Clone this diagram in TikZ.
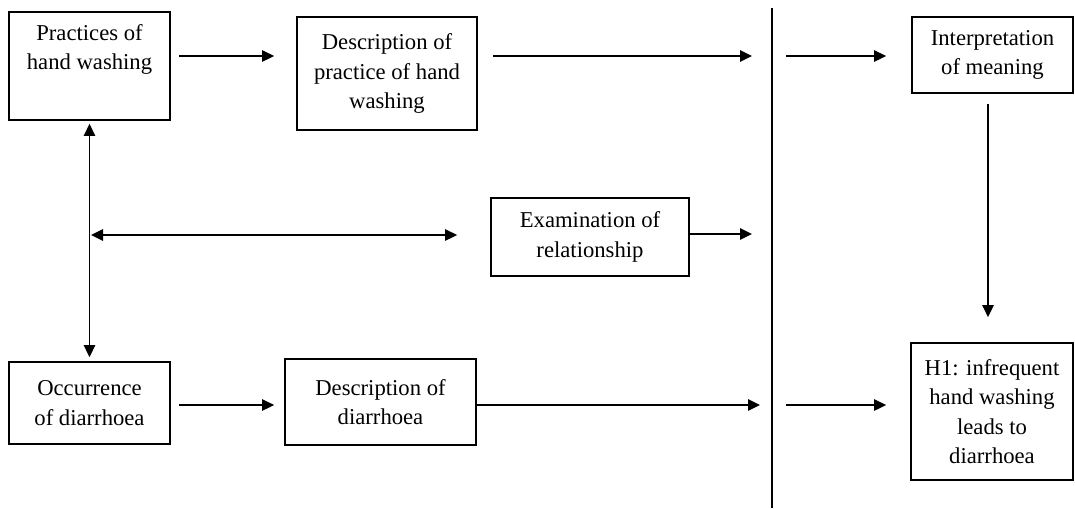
\documentclass[tikz,border=0pt]{standalone}
\usepackage{fontspec}
\setmainfont{Liberation Serif}
\usetikzlibrary{arrows.meta,calc}
\begin{document}
\begin{tikzpicture}[x=0.75pt,y=-0.75pt,
  txtfont/.style={font=\fontsize{17}{22}\selectfont},
  box/.style={draw, line width=1.3pt, align=center, inner sep=0pt, txtfont},
  arr/.style={line width=1.3pt, -{Triangle[length=9pt,width=8.5pt]}},
  darr/.style={line width=1.3pt, {Triangle[length=9pt,width=8.5pt]}-{Triangle[length=9pt,width=8.5pt]}}]
\useasboundingbox (0,0) rectangle (1075,508);

% boxes
\node[box, minimum width=120.75pt, minimum height=81pt,
  label={[txtfont, align=center, inner sep=0pt, anchor=north, yshift=-9.75pt]north:{Practices of\\hand washing}}]
  (p1) at (89.5,66) {};
\node[box, minimum width=135pt, minimum height=84.75pt] (p2) at (387,73.5)
  {Description of\\practice of hand\\washing};
\node[box, minimum width=120.75pt, minimum height=57pt] (p3) at (992.5,55)
  {Interpretation\\of meaning};
\node[box, minimum width=148.5pt, minimum height=58.5pt] (p4) at (590,237)
  {Examination of\\relationship};
\node[box, minimum width=120.75pt, minimum height=61.5pt] (p5) at (89.5,403)
  {Occurrence\\of diarrhoea};
\node[box, minimum width=143.25pt, minimum height=64.5pt] (p6) at (380.5,402)
  {Description of\\diarrhoea};
\node[box, minimum width=121.5pt, minimum height=102.75pt] (p7) at (992,411.5)
  {H1: infrequent\\hand washing\\leads to\\diarrhoea};

% divider and free ends
\coordinate (dtop) at (772,8);
\coordinate (dbot) at (772,508);
\coordinate (e1) at (752,56);
\coordinate (s3) at (786,56);
\coordinate (e9) at (760,405);
\coordinate (s10) at (786,405);
\draw[line width=1.3pt] (dtop) -- (dbot);

% connectors
\draw[arr] ($(p1.east)+(8,-10)$) -- ($(p2.west)+(-22,-17.5)$);
\draw[arr] ($(p2.east)+(15,-17.5)$) -- (e1);
\draw[arr] (s3) -- ($(p3.west)+(-25,1)$);
\draw[arr] ($(p3.south)+(-4.5,10)$) -- ($(p7.north)+(-4,-25)$);
\draw[darr] ($(p1.south)+(0,3)$) -- ($(p5.north)+(0,-4)$);
\draw[darr] ($(p1.south |- p4.west)+(1.5,-2)$) -- ($(p4.west)+(-33,-2)$);
\draw[arr] ($(p4.east)+(0,-3)$) -- ($(p4.east -| e1)+(0,-3)$);
\draw[arr] ($(p5.east)+(8,2)$) -- ($(p6.west)+(-10,3)$);
\draw[arr] ($(p6.east)+(0,3)$) -- (e9);
\draw[arr] (s10) -- ($(p7.west)+(-24,-6.5)$);
\end{tikzpicture}
\end{document}
